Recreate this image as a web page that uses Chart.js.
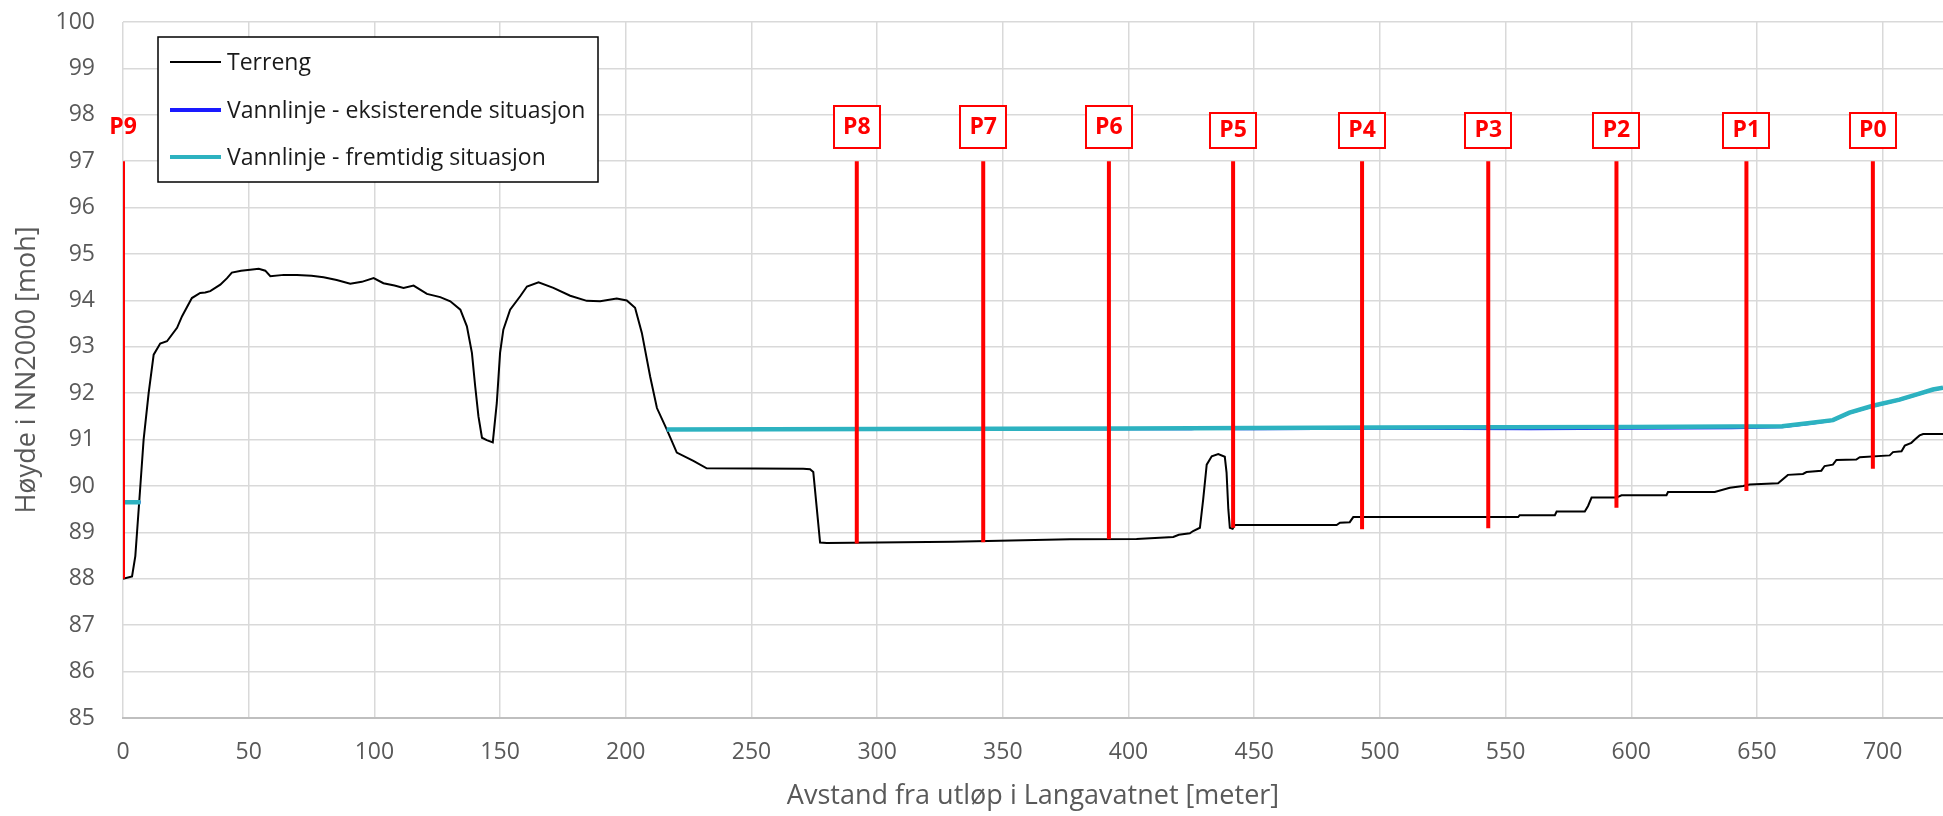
<!DOCTYPE html>
<html>
<head>
<meta charset="utf-8">
<title>Vannlinje Langavatnet</title>
<script src="https://cdn.jsdelivr.net/npm/chart.js@4.4.1/dist/chart.umd.min.js"></script>
<style>
  html, body { margin: 0; padding: 0; background: #fff; }
  #wrap { width: 1943px; height: 816px; }
</style>
</head>
<body>
<div id="wrap"><canvas id="chart" width="1943" height="816"></canvas></div>
<script>
// Terreng - distance from outlet [m] and height [moh]
const terrainX = [0, 3.6, 4.9, 6.9, 8.2, 10.2, 12.2, 14.8, 17.5, 21.5, 23.5, 27.4, 30.7, 32.7, 34.7, 38.7, 41.4, 43.3,
  47, 50.6, 54, 56.6, 58.6, 64, 69.2, 75, 79.8, 85, 90.4, 95, 99.7, 103.6, 108, 111.6, 115.6, 120.9, 126.2, 130.2,
  134.2, 136.8, 138.8, 140.1, 141.4, 142.8, 144.7, 147.1, 148.7, 150.0, 151.3, 154.0, 158.0, 160.7, 165.3, 171.2,
  177.9, 184.5, 189.8, 196.4, 200.4, 203.7, 206.4, 209.7, 212.4, 216.3, 220.3, 226.9, 232.2, 270.6, 273.3, 274.6,
  277.3, 280.0, 330, 376.7, 403.2, 417.8, 420, 424.4, 425.7, 428.4, 429.7, 431.1, 433.1, 435.7, 438.3, 439.0, 439.7,
  440.3, 441.4, 442.3, 482.8, 484.1, 488.0, 489.4, 555.0, 555.6, 569.6, 570.3, 581.5, 582.8, 584.2, 594.1, 596.1,
  614.0, 614.6, 633.2, 639.2, 644.5, 647.1, 658.4, 662.3, 668.3, 669.7, 675.6, 676.9, 680.2, 681.6, 689.5, 690.9,
  702.8, 704.1, 707.5, 708.8, 711.4, 712.8, 714.7, 716.1, 724];
const terrainY = [88.0, 88.05, 88.49, 90.0, 91.0, 92.0, 92.83, 93.07, 93.12, 93.41, 93.66, 94.05, 94.16, 94.17, 94.2,
  94.34, 94.48, 94.6, 94.64, 94.66, 94.68, 94.64, 94.52, 94.55, 94.55, 94.53, 94.5, 94.44, 94.36, 94.4, 94.48, 94.37,
  94.32, 94.27, 94.32, 94.14, 94.07, 93.98, 93.8, 93.44, 92.87, 92.15, 91.5, 91.04, 90.99, 90.94, 91.79, 92.87, 93.37,
  93.8, 94.09, 94.3, 94.39, 94.27, 94.1, 93.99, 93.98, 94.04, 94.0, 93.84, 93.3, 92.36, 91.68, 91.22, 90.72, 90.54,
  90.38, 90.37, 90.36, 90.3, 88.78, 88.77, 88.8, 88.85, 88.86, 88.9, 88.95, 88.98, 89.03, 89.1, 89.71, 90.46, 90.64,
  90.69, 90.63, 90.29, 89.5, 89.1, 89.08, 89.16, 89.16, 89.21, 89.22, 89.33, 89.33, 89.37, 89.37, 89.45, 89.45,
  89.57, 89.75, 89.75, 89.8, 89.8, 89.87, 89.87, 89.96, 90.0, 90.03, 90.06, 90.24, 90.26, 90.3, 90.33, 90.43, 90.46,
  90.56, 90.57, 90.62, 90.66, 90.73, 90.75, 90.87, 90.93, 91.0, 91.09, 91.12, 91.12];

// Vannlinje - eksisterende situasjon (null = gap in the line)
const existingX = [0, 7, 10, 216.3, 300, 400, 425, 430, 436, 442, 450, 500, 560, 600, 640, 660, 671, 680.2, 686.8,
  696.1, 706.7, 713.3, 720, 724];
const existingY = [89.65, 89.65, null, 91.21, 91.22, 91.23, 91.23, 91.25, 91.26, 91.23, 91.23, 91.24, 91.23, 91.24,
  91.25, 91.27, 91.34, 91.41, 91.57, 91.72, 91.85, 91.96, 92.07, 92.11];

// Vannlinje - fremtidig situasjon
const futureX = [0, 7, 10, 216.3, 300, 400, 500, 600, 640, 660, 671, 680.2, 686.8, 696.1, 706.7, 713.3, 720, 724];
const futureY = [89.65, 89.65, null, 91.22, 91.23, 91.24, 91.26, 91.27, 91.28, 91.29, 91.36, 91.42, 91.58, 91.73,
  91.86, 91.97, 92.08, 92.12];

// Profile markers P9..P0
const markerNames = ['P9', 'P8', 'P7', 'P6', 'P5', 'P4', 'P3', 'P2', 'P1', 'P0'];
const markerX = [0, 291.9, 342.2, 392.2, 441.6, 492.9, 543.1, 594.1, 645.8, 696.1];
const markerTop = [97, 97, 97, 97, 97, 97, 97, 97, 97, 97];
const markerBottom = [88.0, 88.76, 88.79, 88.85, 89.1, 89.07, 89.09, 89.53, 89.89, 90.37];

// Axis ticks
const xTicks = [0, 50, 100, 150, 200, 250, 300, 350, 400, 450, 500, 550, 600, 650, 700];
const yTicks = [85, 86, 87, 88, 89, 90, 91, 92, 93, 94, 95, 96, 97, 98, 99, 100];

const seriesLabels = ['Terreng', 'Vannlinje - eksisterende situasjon', 'Vannlinje - fremtidig situasjon'];

const toPoints = (xs, ys) => xs.map((x, i) => ({ x: x, y: ys[i] }));

const markerPoints = [];
markerX.forEach((x, i) => {
    markerPoints.push({ x: x, y: markerTop[i] });
    markerPoints.push({ x: x, y: markerBottom[i] });
    markerPoints.push({ x: x, y: null });
});

const tallBoxes = ['P8', 'P7', 'P6'];

// boxed P-labels above each red line
const profileLabels = {
    id: 'profileLabels',
    afterDatasetsDraw(chart) {
        const { ctx } = chart;
        const xs = chart.scales.x, ys = chart.scales.y;
        ctx.save();
        ctx.font = 'bold 23px "Open Sans", sans-serif';
        ctx.textAlign = 'center';
        ctx.textBaseline = 'middle';
        markerNames.forEach((name, i) => {
            const cx = xs.getPixelForValue(markerX[i]);
            const bottom = ys.getPixelForValue(markerTop[i]) - 13;
            const h = tallBoxes.includes(name) ? 42 : 35;
            if(i > 0) {
                ctx.fillStyle = '#fff';
                ctx.fillRect(cx - 23, bottom - h, 46, h);
                ctx.strokeStyle = '#ff0000';
                ctx.lineWidth = 2;
                ctx.strokeRect(Math.round(cx - 23), Math.round(bottom - h), 46, h);
            }
            ctx.fillStyle = '#ff0000';
            ctx.fillText(name, cx, bottom - (i === 0 ? 21 : h / 2));
        });
        ctx.restore();
    }
};

// framed legend inside the plot, top left
const boxLegend = {
    id: 'boxLegend',
    afterDraw(chart) {
        const { ctx, chartArea } = chart;
        const left = chartArea.left + 35, top = chartArea.top + 15;
        const rows = [25, 73, 120];
        ctx.save();
        ctx.fillStyle = '#fff';
        ctx.fillRect(left, top, 440, 145);
        ctx.strokeStyle = '#000';
        ctx.lineWidth = 1.5;
        ctx.strokeRect(left, top, 440, 145);
        ctx.font = '23px "Open Sans", sans-serif';
        ctx.textBaseline = 'middle';
        seriesLabels.forEach((label, i) => {
            const ds = chart.data.datasets[i];
            const y = top + rows[i];
            ctx.strokeStyle = ds.borderColor;
            ctx.lineWidth = i === 0 ? 2 : 4;
            ctx.beginPath();
            ctx.moveTo(left + 12, y);
            ctx.lineTo(left + 63, y);
            ctx.stroke();
            ctx.fillStyle = '#1a1a1a';
            ctx.fillText(label, left + 69, y + 1);
        });
        ctx.restore();
    }
};

Chart.defaults.font.family = '"Open Sans", sans-serif';

const ctx = document.getElementById('chart').getContext('2d');
new Chart(ctx, {
    type: 'line',
    data: {
        datasets: [
            {
                label: seriesLabels[0],
                data: toPoints(terrainX, terrainY),
                borderColor: '#000000',
                borderWidth: 2,
                order: 3
            },
            {
                label: seriesLabels[1],
                data: toPoints(existingX, existingY),
                borderColor: '#1a1aff',
                borderWidth: 2.5,
                order: 2
            },
            {
                label: seriesLabels[2],
                data: toPoints(futureX, futureY),
                borderColor: '#2db2c0',
                borderWidth: 4.5,
                order: 1
            },
            {
                label: 'Profiler',
                data: markerPoints,
                borderColor: '#ff0000',
                borderWidth: 4,
                order: 0
            }
        ]
    },
    options: {
        responsive: false,
        devicePixelRatio: 1,
        animation: false,
        spanGaps: false,
        elements: {
            point: { radius: 0, hoverRadius: 0 },
            line: { tension: 0, fill: false }
        },
        layout: {
            padding: { top: 0, right: 0, left: 0, bottom: 0 }
        },
        plugins: {
            legend: { display: false },
            tooltip: { enabled: false }
        },
        scales: {
            x: {
                type: 'linear',
                min: 0,
                max: 724,
                afterBuildTicks: scale => {
                    scale.ticks = xTicks.map(v => ({ value: v }));
                },
                afterFit: scale => { scale.height = 98; },
                ticks: {
                    padding: 21,
                    color: '#595959',
                    font: { size: 23 },
                    maxRotation: 0,
                    autoSkip: false
                },
                grid: {
                    color: '#d9d9d9',
                    lineWidth: 1.5,
                    drawTicks: false
                },
                border: {
                    display: true,
                    color: '#bfbfbf',
                    width: 2
                },
                title: {
                    display: true,
                    text: 'Avstand fra utløp i Langavatnet [meter]',
                    color: '#595959',
                    font: { size: 27 },
                    padding: { top: 0, bottom: 3 }
                }
            },
            y: {
                type: 'linear',
                min: 85,
                max: 100,
                afterBuildTicks: scale => {
                    scale.ticks = yTicks.map(v => ({ value: v }));
                },
                afterFit: scale => {
                    scale.width = 123;
                    scale.paddingTop = 22;
                    scale.paddingBottom = 0;
                },
                ticks: {
                    padding: 28,
                    color: '#595959',
                    font: { size: 23 }
                },
                grid: {
                    color: '#d9d9d9',
                    lineWidth: 1.5,
                    drawTicks: false
                },
                border: { display: false },
                title: {
                    display: true,
                    text: 'Høyde i NN2000 [moh]',
                    color: '#595959',
                    font: { size: 27 },
                    padding: { top: 11, bottom: 0 }
                }
            }
        }
    },
    plugins: [profileLabels, boxLegend]
});
</script>
</body>
</html>
